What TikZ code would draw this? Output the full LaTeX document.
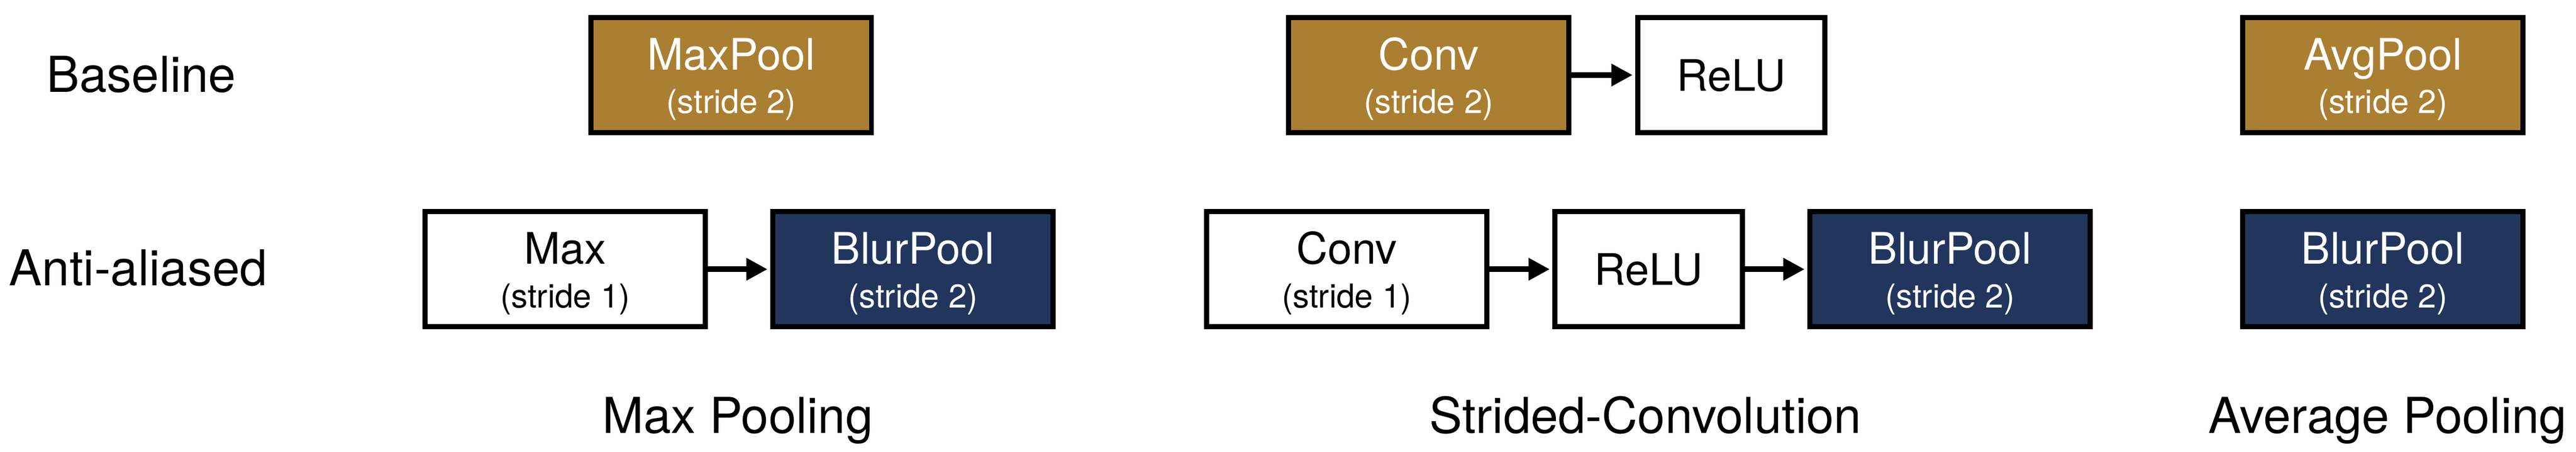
\documentclass[tikz,border=0pt]{standalone}
\usepackage{fontspec}
\setmainfont{TeX Gyre Heros}
\usetikzlibrary{arrows.meta}
\definecolor{basegold}{RGB}{171,127,50}
\definecolor{blurnavy}{RGB}{34,54,93}
\newcommand{\boxtitle}{\fontsize{29}{29}\selectfont}
\newcommand{\stridetxt}{\fontsize{22}{29}\selectfont}
\newcommand{\rowtxt}{\fontsize{33}{40}\selectfont}

\begin{document}
\begin{tikzpicture}[
    layer/.style={draw=black, line width=0.12cm, minimum width=6.59cm, minimum height=2.70cm,
      inner sep=0pt, align=center, font=\stridetxt, text height=1.8cm, text depth=0cm},
    single/.style={layer, minimum width=4.40cm, font=\boxtitle, text height=0.74cm, text depth=0cm},
    gold/.style={fill=basegold, text=white},
    navy/.style={fill=blurnavy, text=white},
    rowlabel/.style={font=\rowtxt, inner sep=0pt},
    flow/.style={-{Triangle[length=0.5cm,width=0.5cm]}, line width=0.13cm, shorten >=0.06cm}
  ]
    \useasboundingbox (0,0) rectangle (60.51,-10.59);
    %row labels
    \node[rowlabel, anchor=base west] (baseline) at (1.09,-2.16) {Baseline};
    \node[rowlabel, anchor=base west] (antialiased) at (0.21,-6.70) {Anti-aliased};
    %max pooling
    \node[layer, gold] (maxpool) at (17.175,-1.76) {\boxtitle MaxPool\\\stridetxt (stride 2)};
    \node[layer] (max) at (13.275,-6.315) {\boxtitle Max\\\stridetxt (stride 1)};
    \node[layer, navy] (blurmax) at (21.445,-6.315) {\boxtitle BlurPool\\\stridetxt (stride 2)};
    \draw[flow] (max) -- (blurmax);
    \node[rowlabel, anchor=base] (maxlabel) at (17.33,-10.16) {Max Pooling};
    %strided convolution
    \node[layer, gold] (conv) at (33.56,-1.76) {\boxtitle Conv\\\stridetxt (stride 2)};
    \node[single] (relu) at (40.67,-1.76) {ReLU};
    \draw[flow] (conv) -- (relu);
    \node[layer] (convaa) at (31.635,-6.315) {\boxtitle Conv\\\stridetxt (stride 1)};
    \node[single] (reluaa) at (38.725,-6.315) {ReLU};
    \node[layer, navy] (blurconv) at (45.805,-6.315) {\boxtitle BlurPool\\\stridetxt (stride 2)};
    \draw[flow] (convaa) -- (reluaa);
    \draw[flow] (reluaa) -- (blurconv);
    \node[rowlabel, anchor=base] (convlabel) at (38.65,-10.16) {Strided-Convolution};
    %average pooling
    \node[layer, gold] (avgpool) at (55.97,-1.76) {\boxtitle AvgPool\\\stridetxt (stride 2)};
    \node[layer, navy] (bluravg) at (55.97,-6.315) {\boxtitle BlurPool\\\stridetxt (stride 2)};
    \node[rowlabel, anchor=base] (avglabel) at (56.08,-10.16) {Average Pooling};
\end{tikzpicture}
\end{document}
